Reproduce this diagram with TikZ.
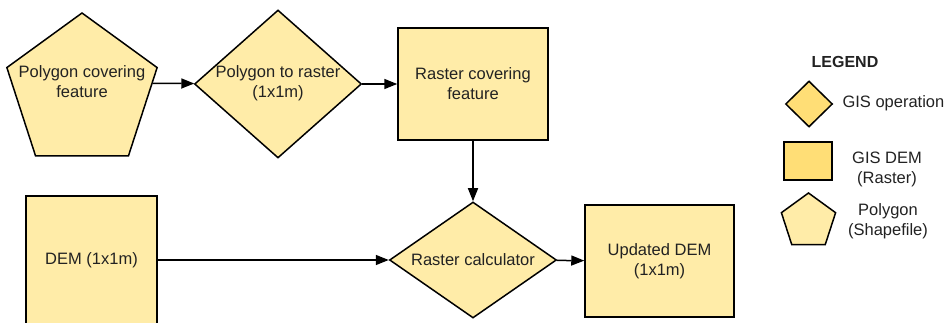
\documentclass[tikz,border=0pt]{standalone}
\usepackage{fontspec}
\setmainfont{Liberation Sans}
\usetikzlibrary{shapes.geometric,arrows.meta}

\definecolor{paleyellow}{RGB}{255,236,168}
\definecolor{deepyellow}{RGB}{255,222,118}
\definecolor{inkgrey}{RGB}{34,34,34}

\begin{document}
\begin{tikzpicture}[x=1pt,y=-1pt,
    every node/.style={font=\fontsize{16.5}{20}\selectfont,text=inkgrey,align=center},
    shapebox/.style={draw,line width=1.5pt,fill=paleyellow,inner sep=0pt},
    opdiamond/.style={shapebox,diamond},
    rasterbox/.style={shapebox,rectangle},
    polyshape/.style={shapebox,regular polygon,regular polygon sides=5},
    arrow/.style={line width=1.5pt,-{Triangle[length=13pt,width=10pt]}}]
  \useasboundingbox (0,0) rectangle (948,323);

  % workflow
  \node[polyshape,minimum size=158pt,
        label={[yshift=10pt]center:Polygon covering\\feature}] (poly) at (82,92) {};
  \node[opdiamond,minimum width=167pt,minimum height=148pt,
        label={[yshift=1pt]center:Polygon to raster\\(1x1m)}] (torast) at (278,84) {};
  \node[rasterbox,minimum width=150pt,minimum height=112pt] (rast) at (473,84)
    {Raster covering\\feature};
  \node[rasterbox,minimum width=131pt,minimum height=128pt] (dem) at (91.5,260)
    {DEM (1x1m)};
  \node[opdiamond,minimum width=167pt,minimum height=116pt,
        label={center:Raster calculator}] (calc) at (473,260) {};
  \node[rasterbox,minimum width=149pt,minimum height=112pt] (upd) at (659.5,261)
    {Updated DEM\\(1x1m)};

  \draw[arrow] (poly.7) -- (torast);
  \draw[arrow] (torast) -- (rast);
  \draw[arrow] (rast) -- (calc);
  \draw[arrow] (dem) -- (calc);
  \draw[arrow] (calc) -- (upd);

  % legend
  \node[font=\fontsize{16}{20}\selectfont\bfseries] (legtitle) at (845,62) {LEGEND};
  \node[opdiamond,fill=deepyellow,minimum width=47pt,minimum height=46pt] (legop) at (809,104) {};
  \node[anchor=west] (legoptxt) at (839,103) {GIS operation};
  \node[rasterbox,fill=deepyellow,minimum width=48pt,minimum height=38pt] (legrast) at (808,161) {};
  \node (legrasttxt) at (887,169) {GIS DEM\\(Raster)};
  \node[polyshape,minimum size=57pt] (legpoly) at (808.5,221.5) {};
  \node (legpolytxt) at (888,221) {Polygon\\(Shapefile)};
\end{tikzpicture}
\end{document}
